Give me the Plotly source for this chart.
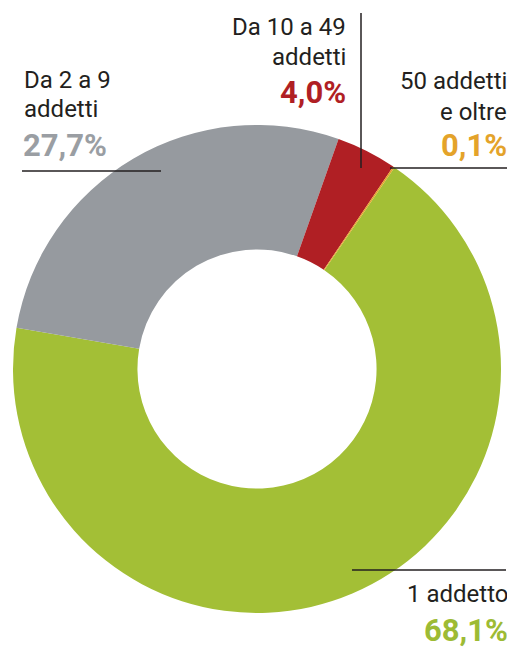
import plotly.graph_objects as go

# page body has an 8px margin: the figure fills the rest of the 515x649 window
OFF = 8
W, H = 515 - OFF, 649 - OFF

categories = ["1 addetto", "Da 2 a 9 addetti", "Da 10 a 49 addetti", "50 addetti e oltre"]
values = [68.1, 27.7, 4.0, 0.1]
pct_labels = ["68,1%", "27,7%", "4,0%", "0,1%"]
colors = ["#a3bf36", "#969a9f", "#b01f24", "#e5a52a"]
pct_colors = ["#9dbb34", "#9a9ea3", "#b01f24", "#e4a32a"]

FONT = "Roboto, Liberation Sans, sans-serif"
TXT = "#231f20"
LBL = 24
PCT = 31

def px(x):
    return (x - OFF) / W

def py(y):
    return 1 - (y - OFF) / H

fig = go.Figure(go.Pie(
    labels=categories,
    values=values,
    hole=0.49,
    sort=False,
    direction="clockwise",
    rotation=34.3,
    marker=dict(colors=colors, line=dict(width=0)),
    textinfo="none",
    hoverinfo="label+percent",
    domain=dict(x=[px(13), px(501)], y=[py(613), py(125)]),
    showlegend=False,
))

ann = []
def add(text, x, y, anchor, color=TXT, size=LBL, bold=False):
    t = f"<b>{text}</b>" if bold else text
    ann.append(dict(text=t, x=px(x), y=py(y), xref="paper", yref="paper",
                    xanchor=anchor, yanchor="middle", showarrow=False,
                    font=dict(family=FONT, size=size, color=color)))

# Da 10 a 49
add("Da 10 a 49", 348, 27, "right")
add("addetti", 348, 57, "right")
add(pct_labels[2], 348, 93, "right", pct_colors[2], PCT, True)
# 50 addetti e oltre
add("50 addetti", 509, 81, "right")
add("e oltre", 509, 112, "right")
add(pct_labels[3], 509, 145, "right", pct_colors[3], PCT, True)
# Da 2 a 9
add("Da 2 a 9", 22, 80, "left")
add("addetti", 22, 109, "left")
add(pct_labels[1], 21, 145, "left", pct_colors[1], PCT, True)
# 1 addetto
add("1 addetto", 510, 594, "right")
add(pct_labels[0], 510, 630, "right", pct_colors[0], PCT, True)

shapes = [
    dict(type="line", xref="paper", yref="paper", x0=px(361), x1=px(361), y0=py(13), y1=py(168),
         line=dict(color=TXT, width=1.5)),
    dict(type="line", xref="paper", yref="paper", x0=px(390), x1=px(510), y0=py(168), y1=py(168),
         line=dict(color=TXT, width=1.5)),
    dict(type="line", xref="paper", yref="paper", x0=px(22), x1=px(161), y0=py(171), y1=py(171),
         line=dict(color=TXT, width=1.5)),
    dict(type="line", xref="paper", yref="paper", x0=px(352), x1=px(506), y0=py(570), y1=py(570),
         line=dict(color=TXT, width=1.5)),
]

fig.update_layout(
    width=W, height=H,
    margin=dict(l=0, r=0, t=0, b=0, pad=0),
    paper_bgcolor="white", plot_bgcolor="white",
    annotations=ann, shapes=shapes,
)

fig.write_html("out.html")
